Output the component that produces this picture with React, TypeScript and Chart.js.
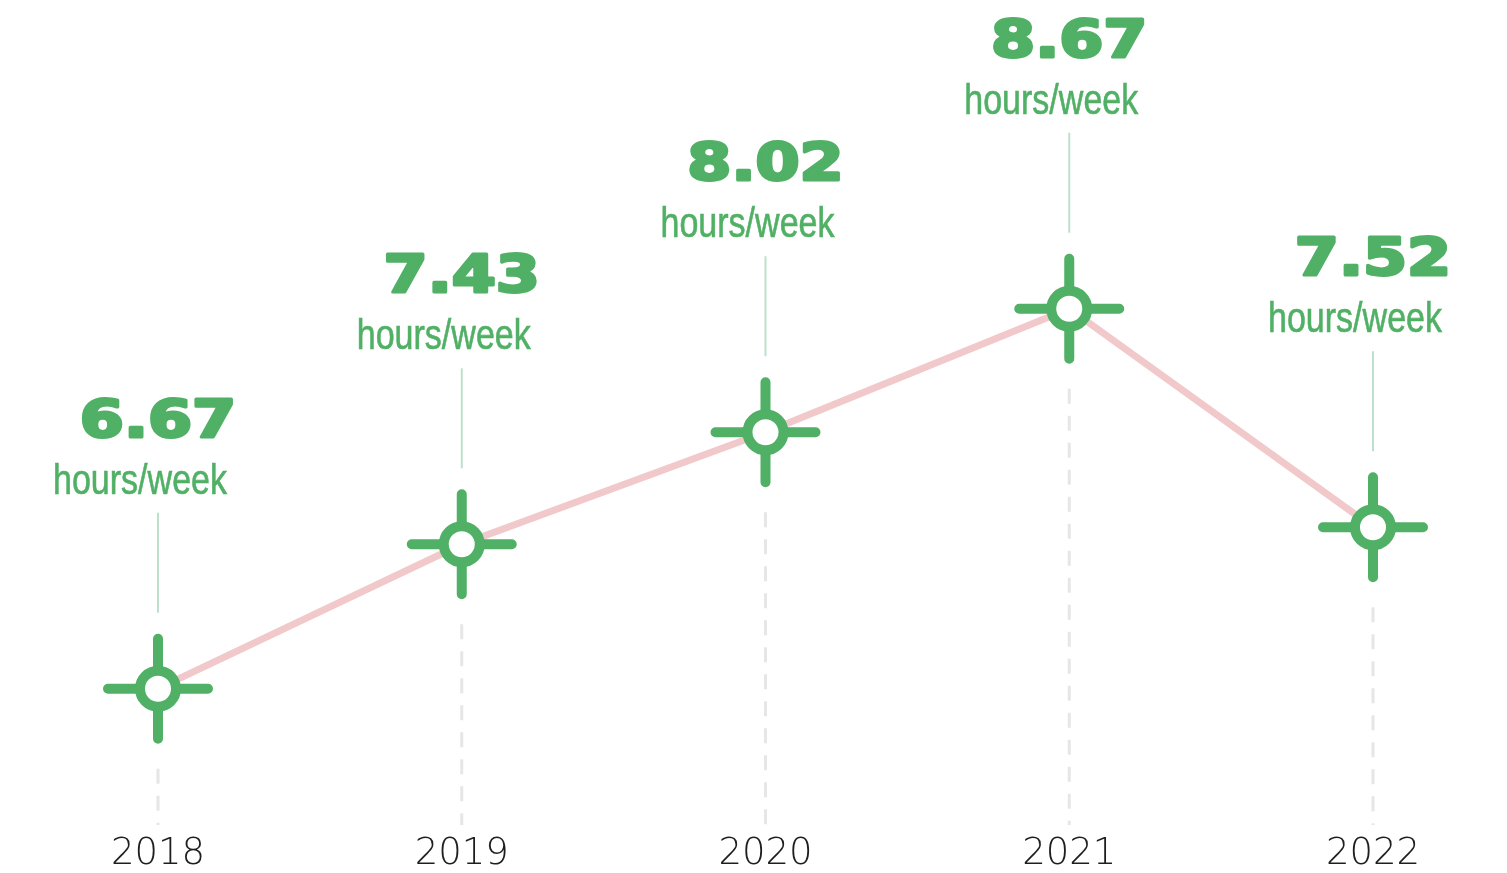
import React, { useEffect, useRef } from "react";
import { Chart, registerables } from "chart.js";

Chart.register(...registerables);

const years: string[] = ["2018", "2019", "2020", "2021", "2022"];
const hoursPerWeek: number[] = [6.67, 7.43, 8.02, 8.67, 7.52];
const unitLabel = "hours/week";

const GREEN = "#50b065";
const PINK = "#f2c9cb";
const THIN_GREEN = "#bde0cd";
const DASH_GRAY = "#e6e6e6";

const decorPlugin = {
  id: "decor",
  beforeDatasetsDraw(chart: any) {
    const ctx = chart.ctx as CanvasRenderingContext2D;
    const meta = chart.getDatasetMeta(0);
    const bottom = chart.chartArea.bottom;
    ctx.save();
    meta.data.forEach((pt: any) => {
      const x = pt.x;
      const y = pt.y;
      ctx.beginPath();
      ctx.setLineDash([15, 12]);
      ctx.strokeStyle = DASH_GRAY;
      ctx.lineWidth = 3;
      ctx.moveTo(x, y + 80);
      ctx.lineTo(x, bottom + 9);
      ctx.stroke();
      ctx.beginPath();
      ctx.setLineDash([]);
      ctx.strokeStyle = THIN_GREEN;
      ctx.lineWidth = 2;
      ctx.moveTo(x, y - 176);
      ctx.lineTo(x, y - 76);
      ctx.stroke();
    });
    ctx.restore();
  },
  afterDatasetsDraw(chart: any) {
    const ctx = chart.ctx as CanvasRenderingContext2D;
    const meta = chart.getDatasetMeta(0);
    const values = chart.data.datasets[0].data as number[];
    ctx.save();
    meta.data.forEach((pt: any, i: number) => {
      const x = pt.x;
      const y = pt.y;
      ctx.setLineDash([]);
      ctx.strokeStyle = GREEN;
      ctx.lineCap = "round";
      ctx.lineWidth = 10;
      ctx.beginPath();
      ctx.moveTo(x - 50, y);
      ctx.lineTo(x + 50, y);
      ctx.moveTo(x, y - 50);
      ctx.lineTo(x, y + 50);
      ctx.stroke();
      ctx.beginPath();
      ctx.arc(x, y, 18, 0, Math.PI * 2);
      ctx.fillStyle = "#ffffff";
      ctx.fill();
      ctx.lineWidth = 10;
      ctx.stroke();

      ctx.fillStyle = GREEN;
      ctx.strokeStyle = GREEN;
      ctx.textAlign = "center";
      ctx.textBaseline = "alphabetic";
      ctx.save();
      ctx.translate(x, y - 252);
      ctx.scale(1.22, 1);
      ctx.font = "bold 52px 'DejaVu Sans'";
      ctx.lineWidth = 3;
      ctx.lineJoin = "round";
      const txt = values[i].toFixed(2);
      ctx.fillText(txt, 0, 0);
      ctx.strokeText(txt, 0, 0);
      ctx.restore();

      ctx.save();
      ctx.translate(x - 18, y - 195);
      ctx.scale(0.81, 1);
      ctx.font = "42px 'Liberation Sans'";
      ctx.lineWidth = 0.6;
      ctx.fillText(unitLabel, 0, 0);
      ctx.strokeText(unitLabel, 0, 0);
      ctx.restore();
    });
    ctx.restore();
  },
};

export default function App() {
  const canvasRef = useRef<HTMLCanvasElement | null>(null);

  useEffect(() => {
    if (!canvasRef.current) return;
    const chart = new Chart(canvasRef.current, {
      type: "line",
      data: {
        labels: years,
        datasets: [
          {
            data: hoursPerWeek,
            borderColor: PINK,
            borderWidth: 7,
            pointRadius: 0,
            tension: 0,
            fill: false,
          },
        ],
      },
      options: {
        animation: false,
        responsive: false,
        maintainAspectRatio: false,
        layout: { padding: { left: 158, right: 134, top: 246, bottom: 0 } },
        plugins: {
          legend: { display: false },
          tooltip: { enabled: false },
        },
        scales: {
          x: {
            type: "category",
            offset: false,
            grid: { display: false, drawTicks: false },
            border: { display: false },
            afterFit: (scale: any) => {
              scale.height = 57;
            },
            ticks: {
              color: "#1e1e1e",
              padding: 16,
              font: { family: "'DejaVu Sans'", size: 37, weight: "200" as any },
              maxRotation: 0,
              autoSkip: false,
            },
          },
          y: {
            display: false,
            min: 6,
            max: 9,
          },
        },
      },
      plugins: [decorPlugin],
    });
    return () => chart.destroy();
  }, []);

  return (
    <div style={{ position: "absolute", left: 0, top: 0, width: 1507, height: 873 }}>
      <canvas ref={canvasRef} width={1507} height={873} style={{ display: "block" }} />
    </div>
  );
}
